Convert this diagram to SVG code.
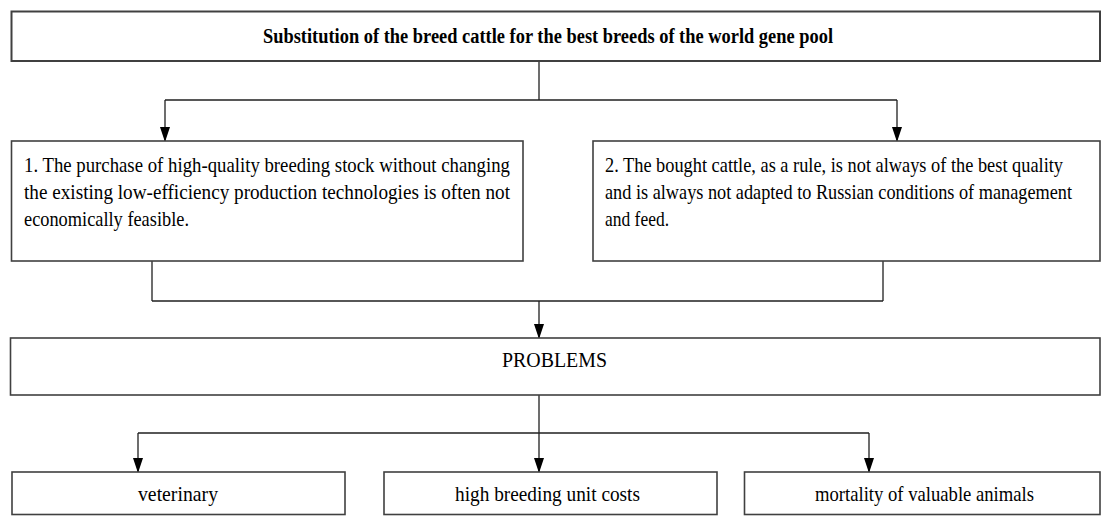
<svg xmlns="http://www.w3.org/2000/svg" width="1101" height="517" viewBox="0 0 1101 517">
<style>
.box{fill:#fff;stroke:#404040;stroke-width:1.6}
.ln{fill:none;stroke:#202020;stroke-width:1.3}
.t{font-family:"Liberation Serif","Times New Roman",serif;font-size:18.5px;fill:#000}
.b{font-weight:bold}
</style>
<defs>
<marker id="a" markerUnits="userSpaceOnUse" markerWidth="15" markerHeight="11" refX="14" refY="5" orient="auto" viewBox="0 0 15 10">
<path d="M0,0 L15,5 L0,10 Z" fill="#000"/>
</marker>
</defs>
<rect width="1101" height="517" fill="#fff"/>
<g id="connectors">
<path class="ln" d="M539,61 V100 M165,100 H897"/>
<path class="ln" d="M165,100 V141" marker-end="url(#a)"/>
<path class="ln" d="M897,100 V141" marker-end="url(#a)"/>
<path class="ln" d="M152,261 V301 M883,261 V301 M152,301 H883"/>
<path class="ln" d="M539,301 V338" marker-end="url(#a)"/>
<path class="ln" d="M539,395 V433 M138,433 H869"/>
<path class="ln" d="M138,433 V472" marker-end="url(#a)"/>
<path class="ln" d="M539,433 V472" marker-end="url(#a)"/>
<path class="ln" d="M869,433 V472" marker-end="url(#a)"/>
</g>
<g id="top">
<rect class="box" x="11.5" y="11.5" width="1088.5" height="49.5" style="stroke-width:2"/>
<text class="t b" transform="translate(263,43) scale(1,1.14)" textLength="570" lengthAdjust="spacingAndGlyphs">Substitution of the breed cattle for the best breeds of the world gene pool</text>
</g>
<g id="n1">
<rect class="box" x="11.5" y="141" width="511.5" height="120"/>
<text class="t" transform="translate(24,172) scale(1,1.14)" textLength="486" lengthAdjust="spacingAndGlyphs">1. The purchase of high-quality breeding stock without changing</text>
<text class="t" transform="translate(24,199) scale(1,1.14)" textLength="486" lengthAdjust="spacingAndGlyphs">the existing low-efficiency production technologies is often not</text>
<text class="t" transform="translate(24,226) scale(1,1.14)" textLength="165" lengthAdjust="spacingAndGlyphs">economically feasible.</text>
</g>
<g id="n2">
<rect class="box" x="593" y="141" width="507" height="120"/>
<text class="t" transform="translate(605,172) scale(1,1.14)" textLength="458" lengthAdjust="spacingAndGlyphs">2. The bought cattle, as a rule, is not always of the best quality</text>
<text class="t" transform="translate(605,199) scale(1,1.14)" textLength="467" lengthAdjust="spacingAndGlyphs">and is always not adapted to Russian conditions of management</text>
<text class="t" transform="translate(605,226) scale(1,1.14)" textLength="64" lengthAdjust="spacingAndGlyphs">and feed.</text>
</g>
<g id="problems">
<rect class="box" x="10.5" y="338" width="1089.5" height="57"/>
<text class="t" transform="translate(502,367) scale(1,1.14)" textLength="105" lengthAdjust="spacingAndGlyphs">PROBLEMS</text>
</g>
<g id="veterinary">
<rect class="box" x="12" y="472" width="333" height="42.5"/>
<text class="t" transform="translate(138,501) scale(1,1.14)" textLength="80" lengthAdjust="spacingAndGlyphs">veterinary</text>
</g>
<g id="costs">
<rect class="box" x="384" y="472" width="333" height="42.5"/>
<text class="t" transform="translate(455,501) scale(1,1.14)" textLength="185" lengthAdjust="spacingAndGlyphs">high breeding unit costs</text>
</g>
<g id="mortality">
<rect class="box" x="744.5" y="472" width="355.5" height="42.5"/>
<text class="t" transform="translate(815,501) scale(1,1.14)" textLength="219" lengthAdjust="spacingAndGlyphs">mortality of valuable animals</text>
</g>
</svg>
